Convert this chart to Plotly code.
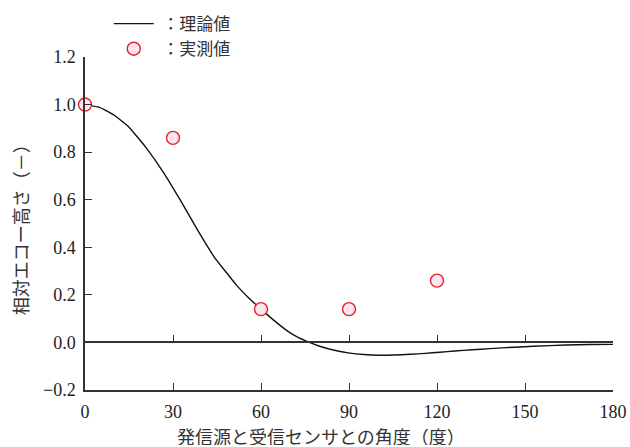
import plotly.graph_objects as go

# theoretical curve
theory_angle = [0, 5, 10, 15, 21, 27, 32.4, 38.5, 44, 51.7, 56, 60, 64, 68.6, 72, 76.5, 80, 85, 90.3, 95, 100, 105, 110.8, 116, 121, 126, 132, 138, 143.5, 152.8, 164, 172, 180]
theory_value = [1.0, 0.988, 0.955, 0.905, 0.816, 0.71, 0.60, 0.47, 0.36, 0.24, 0.185, 0.14, 0.097, 0.052, 0.025, 0.0, -0.016, -0.033, -0.045, -0.051, -0.054, -0.053, -0.05, -0.046, -0.041, -0.036, -0.031, -0.026, -0.022, -0.016, -0.011, -0.009, -0.008]

# measured values
meas_angle = [0, 30, 60, 90, 120]
meas_value = [1.0, 0.86, 0.14, 0.14, 0.26]

x_ticks = [0, 30, 60, 90, 120, 150, 180]
y_ticks = [-0.2, 0.0, 0.2, 0.4, 0.6, 0.8, 1.0, 1.2]
y_ticklabels = ["\u22120.2", "0.0", "0.2", "0.4", "0.6", "0.8", "1.0", "1.2"]

FONT = "'Liberation Serif', 'Times New Roman', serif"
JFONT = "'Noto Sans CJK JP'"
AX = "#333333"
GAP = "\u2009"

fig = go.Figure()
fig.add_trace(go.Scatter(x=theory_angle, y=theory_value, mode="lines", line=dict(color="#111111", width=1.4, shape="spline", smoothing=0.3),
                         name=GAP + "\uff1a\u7406\u8ad6\u5024", cliponaxis=False))
fig.add_trace(go.Scatter(x=meas_angle, y=meas_value, mode="markers",
                         marker=dict(symbol="circle", size=13, color="#fde6ee", line=dict(color="#e8202a", width=1.4)),
                         name=GAP + "\uff1a\u5b9f\u6e2c\u5024", cliponaxis=False))

fig.update_layout(
    width=630, height=447,
    margin=dict(l=85, r=17, t=57, b=57, autoexpand=False),
    paper_bgcolor="white", plot_bgcolor="white",
    font=dict(family=FONT, size=18, color="#222222"),
    showlegend=True,
    legend=dict(x=0.045, y=1.153, xanchor="left", yanchor="top", bgcolor="rgba(0,0,0,0)",
                font=dict(size=17, family=JFONT, color="#333333"), itemwidth=40, tracegroupgap=0),
    xaxis=dict(range=[0, 180], tickvals=x_ticks, ticks="inside", ticklen=7, tickcolor=AX, tickwidth=1.3,
               showline=True, linecolor=AX, linewidth=1.5, showgrid=False, zeroline=False,
               tickfont=dict(size=18, family=FONT), ticklabelstandoff=5),
    xaxis2=dict(range=[0, 180], tickvals=x_ticks, ticks="inside", ticklen=7, tickcolor=AX, tickwidth=1.3,
                showline=True, linecolor=AX, linewidth=1.5, showgrid=False, zeroline=False,
                showticklabels=False, overlaying="x", anchor="free", position=0.2/1.4, side="bottom"),
    yaxis=dict(range=[-0.2, 1.2], tickvals=y_ticks, ticktext=y_ticklabels, ticks="inside", ticklen=7,
               tickcolor=AX, tickwidth=1.3, showline=True, linecolor=AX, linewidth=1.5,
               showgrid=False, zeroline=False, tickfont=dict(size=18, family=FONT), ticklabelstandoff=4),
)
# dummy trace to show the zero-line axis
fig.add_trace(go.Scatter(x=[0], y=[0], xaxis="x2", mode="markers", marker=dict(opacity=0), showlegend=False, hoverinfo="skip"))

fig.add_annotation(text="\u767a\u4fe1\u6e90\u3068\u53d7\u4fe1\u30bb\u30f3\u30b5\u3068\u306e\u89d2\u5ea6\uff08\u5ea6\uff09",
                   xref="paper", yref="paper", x=0.447, y=0, yshift=-46, xanchor="center", yanchor="middle",
                   height=18, showarrow=False, font=dict(size=18, family=JFONT, color="#333333"))
fig.add_annotation(text="\u76f8\u5bfe\u30a8\u30b3\u30fc\u9ad8\u3055\uff08\uff0d\uff09",
                   xref="paper", yref="paper", x=0, xshift=-65, y=0.495, xanchor="center", yanchor="middle",
                   textangle=-90, showarrow=False, font=dict(size=18, family=JFONT, color="#333333"))

fig.write_html("out.html", config={"displayModeBar": False},
               post_script="document.body.style.margin='0';document.body.style.overflow='hidden';")
